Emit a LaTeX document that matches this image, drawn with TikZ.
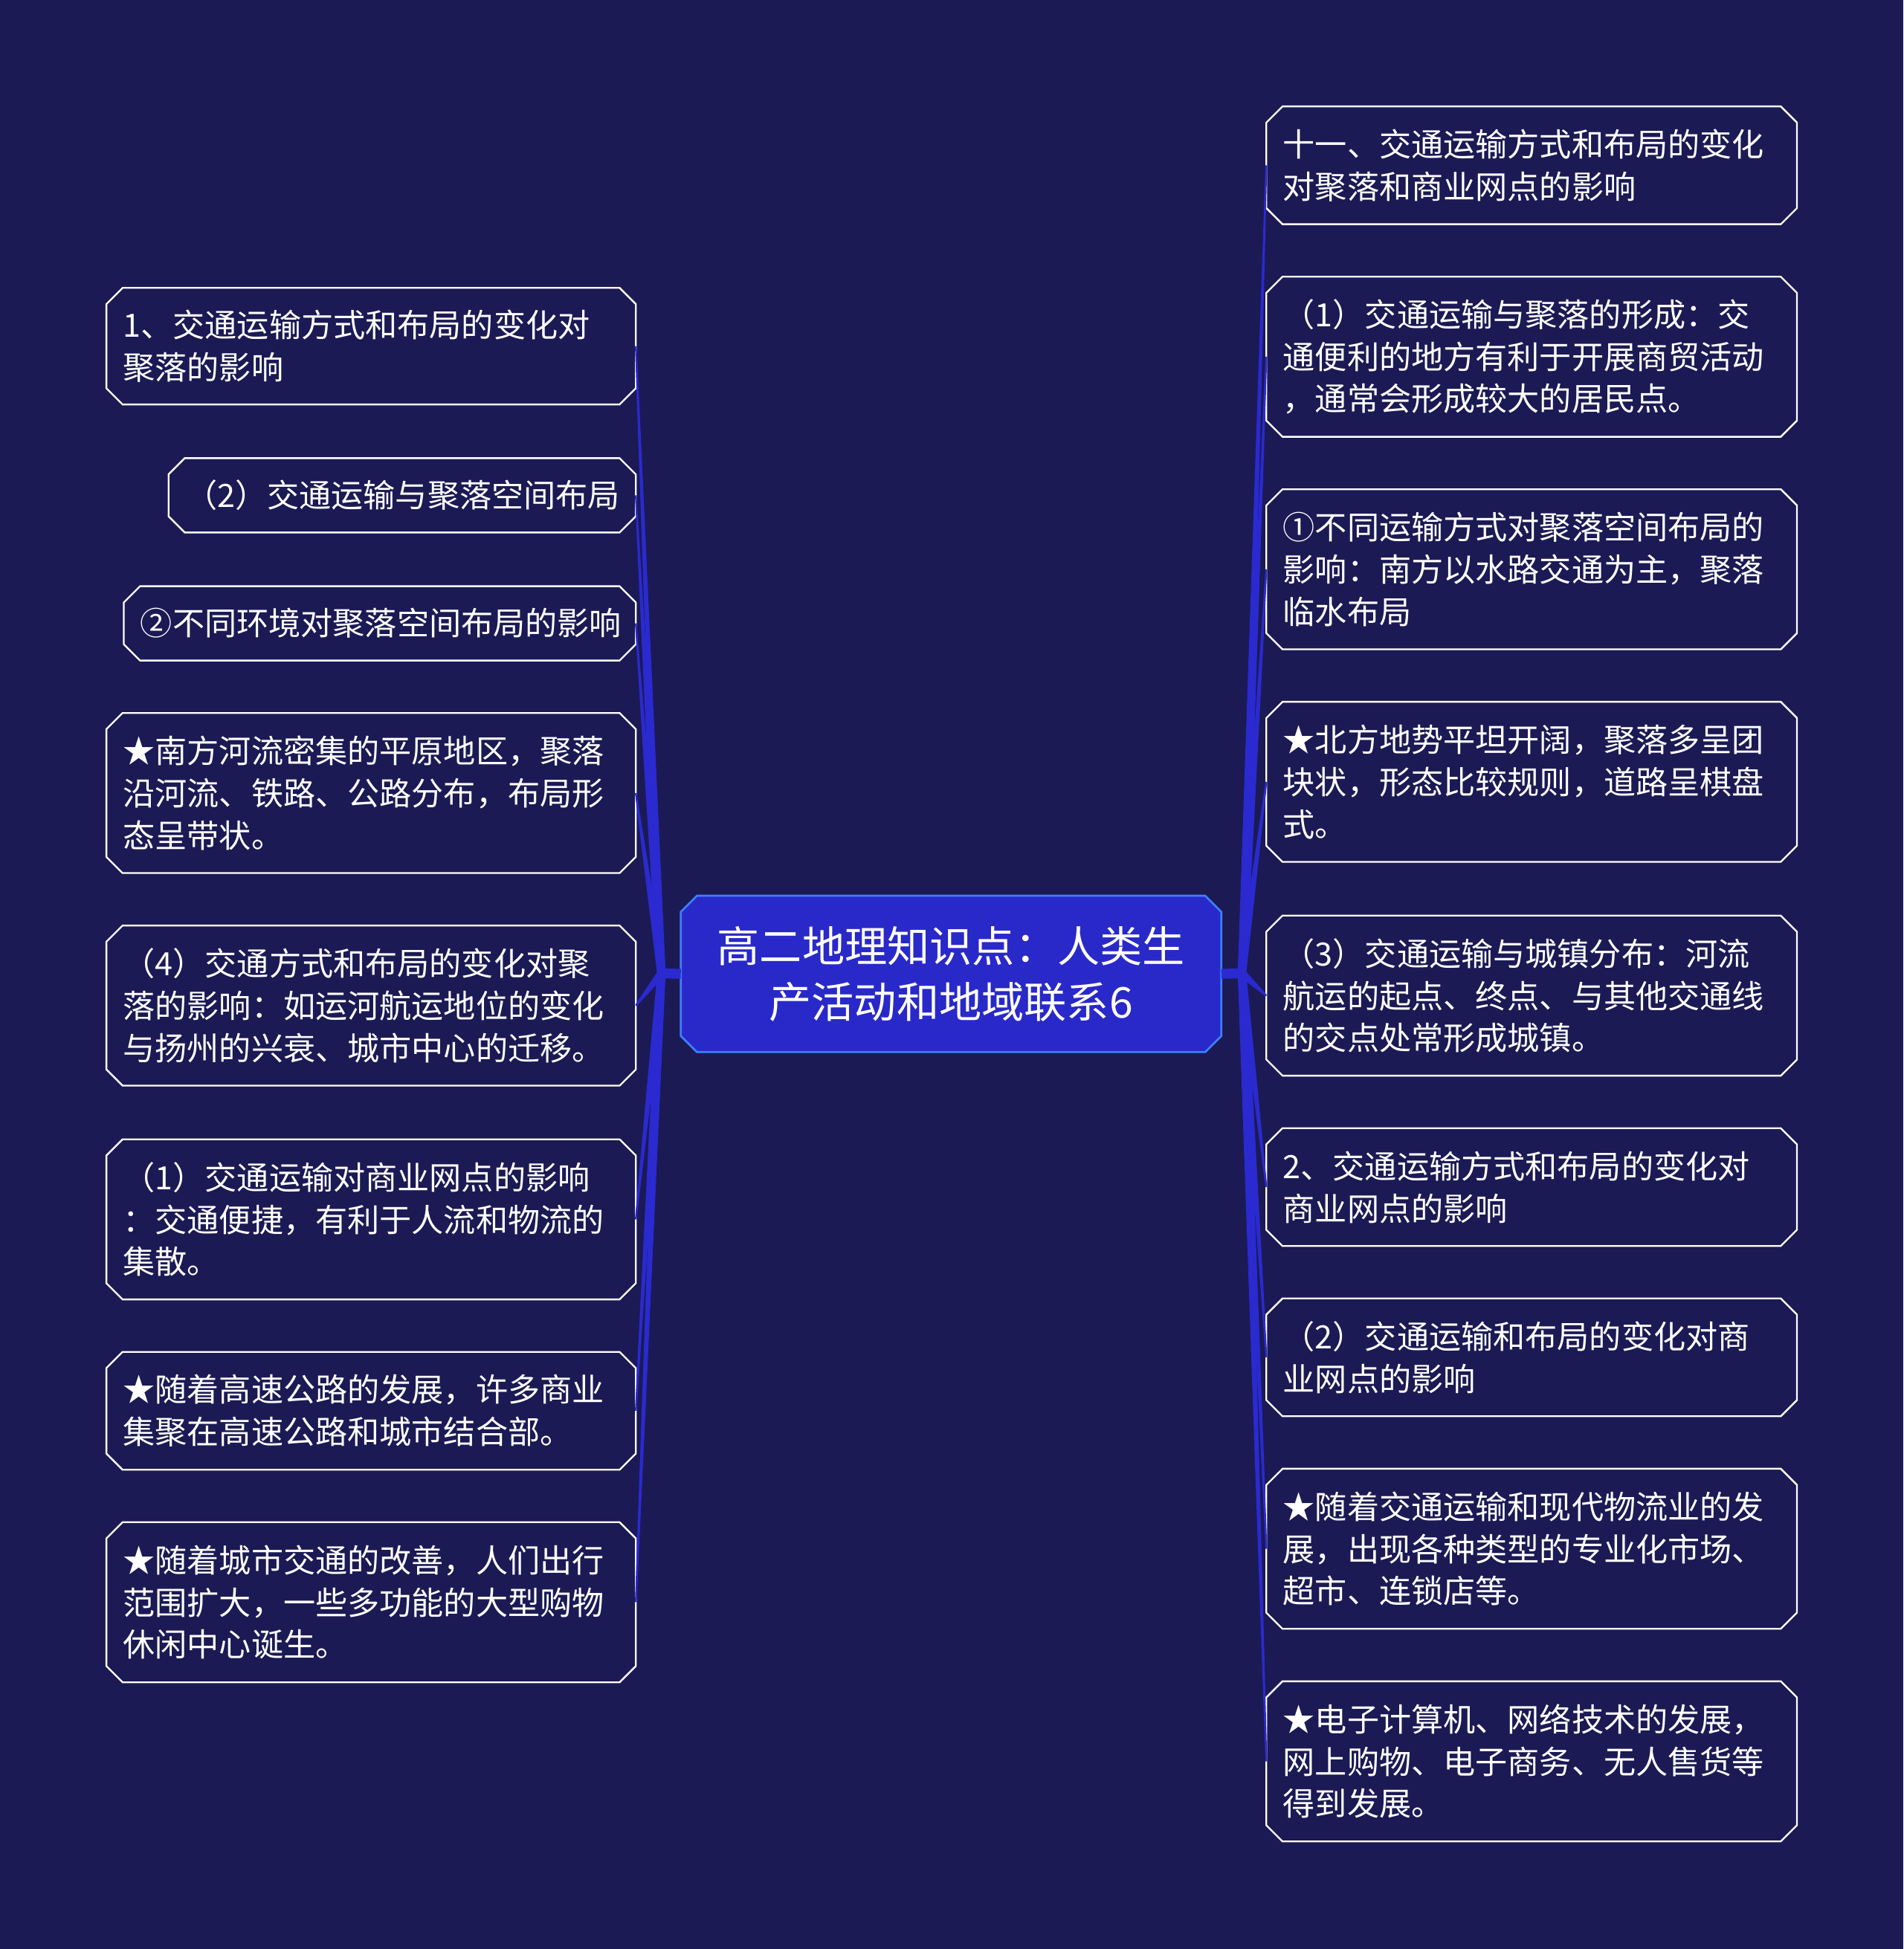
\documentclass[tikz,border=0pt]{standalone}
\usepackage{fontspec}
\setmainfont{Noto Sans CJK SC}
\usetikzlibrary{calc,fit}
\definecolor{bg}{RGB}{27,26,84}
\definecolor{cfill}{RGB}{41,41,201}
\definecolor{cedge}{RGB}{64,128,255}
\definecolor{brc}{RGB}{42,42,208}
\tikzset{
  frameline/.style={draw=white, line width=0.7pt},
  rootline/.style={draw=cedge, fill=cfill, line width=0.8pt},
  boxtext/.style={anchor=west, align=left, text=white, inner sep=0pt,
    font=\fontsize{12.9pt}{17pt}\selectfont},
  roottext/.style={align=center, text=white, inner sep=0pt,
    font=\fontsize{17.1pt}{22.5pt}\selectfont},
  branchfill/.style={fill=brc},
}
\newcommand\mybox[6]{%
  \node[fit={(#2,#3)(#4,#5)}, inner sep=0pt] (#1) {};
  \draw[frameline] ($(#1.north west)+(13,0)$) -- ($(#1.north east)+(-13,0)$)
    -- ($(#1.north east)+(0,13)$) -- ($(#1.south east)+(0,-13)$)
    -- ($(#1.south east)+(-13,0)$) -- ($(#1.south west)+(13,0)$)
    -- ($(#1.south west)+(0,-13)$) -- ($(#1.north west)+(0,13)$) -- cycle;
  \node[boxtext] (#1t) at ($(#1.west)+(13,0)$) {#6};
}
\newcommand\mybranch[2]{%
  \fill[branchfill] ($(#1)!1.7pt!90:(#2)$) -- ($(#2)!0.35pt!-90:(#1)$)
    -- ($(#2)!0.35pt!90:(#1)$) -- ($(#1)!1.7pt!-90:(#2)$) -- cycle;
}
\begin{document}
\begin{tikzpicture}[x=0.5pt, y=-0.5pt]
\fill[bg] (0,0) rectangle (1531,1568);
\useasboundingbox (0,0) rectangle (1531,1568);

% root
\node[fit={(548,721)(982,846)}, inner sep=0pt] (root) {};
\draw[rootline] ($(root.north west)+(13,0)$) -- ($(root.north east)+(-13,0)$)
    -- ($(root.north east)+(0,13)$) -- ($(root.south east)+(0,-13)$)
    -- ($(root.south east)+(-13,0)$) -- ($(root.south west)+(13,0)$)
    -- ($(root.south west)+(0,-13)$) -- ($(root.north west)+(0,13)$) -- cycle;
\node[roottext] (roott) at (root.center) {高二地理知识点：人类生\\产活动和地域联系6};

% left boxes
\mybox{L1}{86}{232}{511}{325}{1、交通运输方式和布局的变化对\\聚落的影响}
\mybox{L2}{136}{369}{511}{428}{（2）交通运输与聚落空间布局}
\mybox{L3}{100}{472}{511}{531}{②不同环境对聚落空间布局的影响}
\mybox{L4}{86}{574}{511}{702}{★南方河流密集的平原地区，聚落\\沿河流、铁路、公路分布，布局形\\态呈带状。}
\mybox{L5}{86}{745}{511}{873}{（4）交通方式和布局的变化对聚\\落的影响：如运河航运地位的变化\\与扬州的兴衰、城市中心的迁移。}
\mybox{L6}{86}{917}{511}{1045}{（1）交通运输对商业网点的影响\\：交通便捷，有利于人流和物流的\\集散。}
\mybox{L7}{86}{1088}{511}{1182}{★随着高速公路的发展，许多商业\\集聚在高速公路和城市结合部。}
\mybox{L8}{86}{1225}{511}{1353}{★随着城市交通的改善，人们出行\\范围扩大，一些多功能的大型购物\\休闲中心诞生。}

% right boxes
\mybox{R1}{1019}{86}{1445}{180}{十一、交通运输方式和布局的变化\\对聚落和商业网点的影响}
\mybox{R2}{1019}{223}{1445}{351}{（1）交通运输与聚落的形成：交\\通便利的地方有利于开展商贸活动\\，通常会形成较大的居民点。}
\mybox{R3}{1019}{394}{1445}{522}{①不同运输方式对聚落空间布局的\\影响：南方以水路交通为主，聚落\\临水布局}
\mybox{R4}{1019}{565}{1445}{693}{★北方地势平坦开阔，聚落多呈团\\块状，形态比较规则，道路呈棋盘\\式。}
\mybox{R5}{1019}{737}{1445}{865}{（3）交通运输与城镇分布：河流\\航运的起点、终点、与其他交通线\\的交点处常形成城镇。}
\mybox{R6}{1019}{908}{1445}{1002}{2、交通运输方式和布局的变化对\\商业网点的影响}
\mybox{R7}{1019}{1045}{1445}{1139}{（2）交通运输和布局的变化对商\\业网点的影响}
\mybox{R8}{1019}{1182}{1445}{1310}{★随着交通运输和现代物流业的发\\展，出现各种类型的专业化市场、\\超市、连锁店等。}
\mybox{R9}{1019}{1353}{1445}{1481}{★电子计算机、网络技术的发展，\\网上购物、电子商务、无人售货等\\得到发展。}

% junctions and stubs
\coordinate (JL) at (532,783);
\coordinate (JR) at (999,783);
\draw[brc, line width=4pt] (root.west) -- (JL);
\draw[brc, line width=4pt] (root.east) -- (JR);

\foreach \n in {L1,L2,L3,L4,L5,L6,L7,L8}{\mybranch{JL}{\n.east}}
\foreach \n in {R1,R2,R3,R4,R5,R6,R7,R8,R9}{\mybranch{JR}{\n.west}}
\end{tikzpicture}
\end{document}
